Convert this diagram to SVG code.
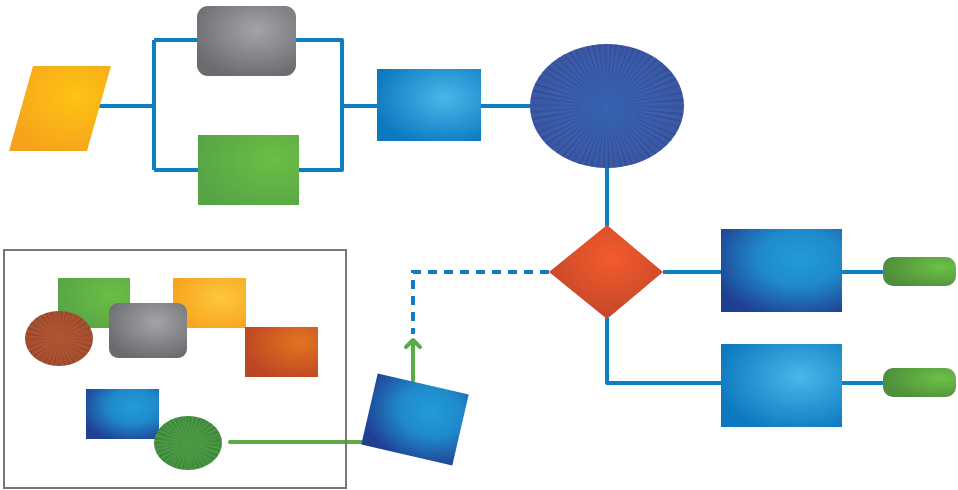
<svg xmlns="http://www.w3.org/2000/svg" width="958" height="490" viewBox="0 0 958 490">
<defs>
<radialGradient id="gOrange" cx="0.65" cy="0.35" r="0.75"><stop offset="0" stop-color="#FDC414"/><stop offset="1" stop-color="#F6A11C"/></radialGradient>
<radialGradient id="gGray" cx="0.6" cy="0.35" r="0.7"><stop offset="0" stop-color="#A3A4A8"/><stop offset="1" stop-color="#6A6B6F"/></radialGradient>
<radialGradient id="gGreen" cx="0.75" cy="0.35" r="0.8"><stop offset="0" stop-color="#6CBE45"/><stop offset="1" stop-color="#57A446"/></radialGradient>
<radialGradient id="gLBlue" cx="0.65" cy="0.4" r="0.7"><stop offset="0" stop-color="#48B8E8"/><stop offset="1" stop-color="#0C78C0"/></radialGradient>
<radialGradient id="gDBlue" cx="0.65" cy="0.35" r="0.75"><stop offset="0" stop-color="#239BD8"/><stop offset="0.45" stop-color="#1F8ACB"/><stop offset="1" stop-color="#203F93"/></radialGradient>
<radialGradient id="gRed" cx="0.55" cy="0.35" r="0.7"><stop offset="0" stop-color="#F35B2B"/><stop offset="1" stop-color="#C0452A"/></radialGradient>
<radialGradient id="gRust" cx="0.75" cy="0.3" r="0.8"><stop offset="0" stop-color="#E2751F"/><stop offset="1" stop-color="#BC4524"/></radialGradient>
<radialGradient id="gYellow" cx="0.65" cy="0.4" r="0.7"><stop offset="0" stop-color="#FDC73D"/><stop offset="1" stop-color="#F7A41E"/></radialGradient>
<radialGradient id="gPill" cx="0.8" cy="0.35" r="0.8"><stop offset="0" stop-color="#6CC046"/><stop offset="1" stop-color="#4F8E3B"/></radialGradient>
<radialGradient id="gEllBlue" cx="0.5" cy="0.5" r="0.55"><stop offset="0" stop-color="#3867B6"/><stop offset="1" stop-color="#3A55A0"/></radialGradient>
<radialGradient id="gEllBrown" cx="0.5" cy="0.5" r="0.55"><stop offset="0" stop-color="#B65A35"/><stop offset="1" stop-color="#A04A2E"/></radialGradient>
<radialGradient id="gEllGreen" cx="0.5" cy="0.5" r="0.55"><stop offset="0" stop-color="#4FA046"/><stop offset="1" stop-color="#3F8A3C"/></radialGradient>
<clipPath id="cBig"><ellipse cx="607" cy="106" rx="77" ry="62"/></clipPath>
<clipPath id="cBrown"><ellipse cx="59" cy="338.5" rx="34" ry="27.5"/></clipPath>
<clipPath id="cGreenE"><ellipse cx="188" cy="443" rx="34" ry="27"/></clipPath>
</defs>
<style>
.conn{fill:none;stroke:#0E7DC2;stroke-width:4;stroke-linejoin:round}
.dash{fill:none;stroke:#0E7DC2;stroke-width:4;stroke-dasharray:9,7}
.gconn{fill:none;stroke:#5AAA46;stroke-width:4;stroke-linecap:round;stroke-linejoin:round}
.rays{fill:none;stroke-dasharray:1.2,2.6;opacity:0.22}
</style>
<g id="connectors">
<path class="conn" d="M98,106 H154 M154,40 V170 M154,40 H197 M154,170 H198 M296,40 H342 V170 H299 M342,106 H377 M481,106 H531 M607,167 V226 M663,272 H721 M842,272 H884 M607,318 V383 H721 M842,383 H884"/>
<path class="dash" d="M549,272 H413 V334"/>
<path class="gconn" d="M230,442 H364"/>
<path class="gconn" d="M413,381 V341 M406,347 L413,340 L420,347"/>
</g>
<g id="group-box"><rect x="4" y="250" width="342" height="238" fill="none" stroke="#777" stroke-width="2"/></g>
<g id="input"><polygon points="33,66 111,66 87,151 9,151" fill="url(#gOrange)"/></g>
<g id="gray-box"><rect x="197" y="6" width="99" height="70" rx="11" fill="url(#gGray)"/></g>
<g id="green-box"><rect x="198" y="135" width="101" height="70" fill="url(#gGreen)"/></g>
<g id="blue-box"><rect x="377" y="69" width="104" height="72" fill="url(#gLBlue)"/></g>
<g id="big-ellipse">
<ellipse cx="607" cy="106" rx="77" ry="62" fill="url(#gEllBlue)"/>
<g clip-path="url(#cBig)">
<circle class="rays" cx="607" cy="106" r="40" stroke="#1E2F6E" stroke-width="80"/>
<circle cx="607" cy="106" r="60" fill="none" stroke="#5577C8" stroke-width="50" stroke-dasharray="0.8,3.7" opacity="0.25"/>
</g>
<circle cx="607" cy="106" r="2" fill="#2A6BC0"/>
</g>
<g id="decision"><polygon points="607,225 663,272 607,319 549,272" fill="url(#gRed)"/></g>
<g id="dark-blue-box"><rect x="721" y="229" width="121" height="83" fill="url(#gDBlue)"/></g>
<g id="light-blue-box"><rect x="721" y="344" width="121" height="83" fill="url(#gLBlue)"/></g>
<g id="pill-1"><rect x="883" y="257" width="73" height="29" rx="10" fill="url(#gPill)"/></g>
<g id="pill-2"><rect x="883" y="368" width="73" height="29" rx="10" fill="url(#gPill)"/></g>
<g id="rotated-box"><rect x="368.3" y="383" width="93.4" height="73" fill="url(#gDBlue)" transform="rotate(13 415 419.5)"/></g>
<g id="legend-green-rect"><rect x="58" y="278" width="72" height="50" fill="url(#gGreen)"/></g>
<g id="legend-orange-rect"><rect x="173" y="278" width="73" height="50" fill="url(#gYellow)"/></g>
<g id="legend-rust-rect"><rect x="245" y="327" width="73" height="50" fill="url(#gRust)"/></g>
<g id="legend-brown-ellipse">
<ellipse cx="59" cy="338.5" rx="34" ry="27.5" fill="url(#gEllBrown)"/>
<g clip-path="url(#cBrown)"><circle class="rays" cx="59" cy="338.5" r="20" stroke="#6E2E18" stroke-width="40"/><circle cx="59" cy="338.5" r="25" fill="none" stroke="#D27A52" stroke-width="30" stroke-dasharray="0.8,3" opacity="0.25"/></g>
</g>
<g id="legend-gray-rect"><rect x="109" y="303" width="78" height="55" rx="9" fill="url(#gGray)"/></g>
<g id="legend-blue-rect"><rect x="86" y="389" width="73" height="50" fill="url(#gDBlue)"/></g>
<g id="legend-green-ellipse">
<ellipse cx="188" cy="443" rx="34" ry="27" fill="url(#gEllGreen)"/>
<g clip-path="url(#cGreenE)"><circle class="rays" cx="188" cy="443" r="20" stroke="#2A6A2A" stroke-width="40"/><circle cx="188" cy="443" r="25" fill="none" stroke="#8CCB70" stroke-width="30" stroke-dasharray="0.8,3" opacity="0.3"/></g>
</g>
</svg>
